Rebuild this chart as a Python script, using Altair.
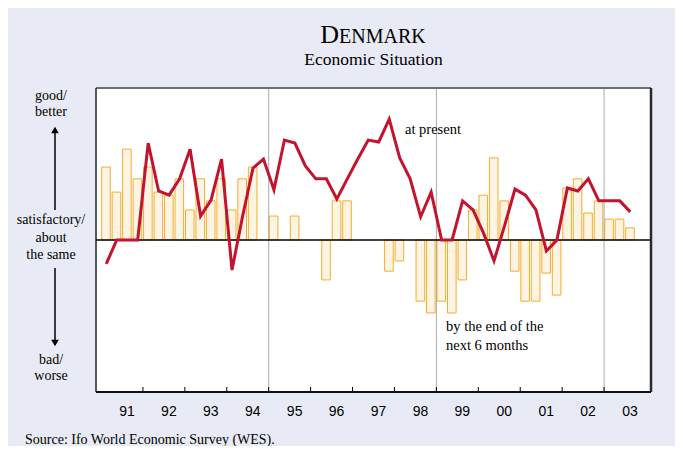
import altair as alt
import pandas as pd

# ---------------- data (WES scale 1..9, 5 = satisfactory) ----------------
years = list(range(1991, 2004))
year_labels = ["91", "92", "93", "94", "95", "96", "97", "98", "99", "00", "01", "02", "03"]

# "at present" (line), quarterly 1991Q1 .. 2003Q3
present = [
    4.37, 5.00, 5.00, 5.00,
    7.55, 6.29, 6.18, 6.61,
    7.39, 5.63, 6.05, 7.13,
    4.21, 5.61, 6.89, 7.13,
    6.32, 7.63, 7.55, 6.95,
    6.61, 6.61, 6.08, 6.61,
    7.13, 7.63, 7.58, 8.18,
    7.16, 6.61, 5.61, 6.26,
    5.00, 5.00, 6.03, 5.79,
    5.18, 4.45, 5.37, 6.34,
    6.18, 5.79, 4.71, 5.00,
    6.37, 6.29, 6.61, 6.03,
    6.03, 6.03, 5.74,
]

# "by the end of the next 6 months" (bars), quarterly 1991Q1 .. 2003Q3
expect = [
    6.92, 6.26, 7.39, 6.61,
    6.92, 6.26, 6.18, 6.61,
    5.79, 6.61, 6.03, 6.61,
    5.79, 6.61, 6.92, 5.00,
    5.63, 5.00, 5.63, 5.00,
    5.00, 3.95, 6.03, 6.03,
    5.00, 5.00, 5.00, 4.18,
    4.45, 5.00, 3.39, 3.08,
    3.39, 3.08, 3.95, 5.79,
    6.18, 7.16, 6.03, 4.18,
    3.39, 3.39, 4.13, 3.55,
    6.37, 6.61, 5.71, 6.03,
    5.55, 5.55, 5.32,
]

separator_years = [1995, 1999, 2003]
first_year = 1991

# ---------------- styling ----------------
W, H = 555, 304
BG = "#e8ebf5"
SERIF = "Liberation Serif"
SANS = "Liberation Sans"
LINE_COLOR = "#c4132f"
BAR_FILL = "#fdf4e3"
BAR_STROKE = "#f2ae2e"

df = pd.DataFrame({"qi": list(range(len(present))), "present": present, "expect": expect})
years_df = pd.DataFrame({"year": years, "label": year_labels})
sep_df = pd.DataFrame({"year": separator_years})
dummy = pd.DataFrame({"a": [0]})

xscale = alt.Scale(domain=[0, 4 * len(years)], nice=False, zero=False)
yscale = alt.Scale(domain=[1, 9], nice=False, zero=False)

base = alt.Chart(df).transform_calculate(xc="datum.qi + 0.5")

bars = base.transform_filter("datum.expect != 5").mark_bar(
    width=8.6, xOffset=-0.3, fill=BAR_FILL, stroke=BAR_STROKE, strokeWidth=1
).encode(
    x=alt.X("xc:Q", scale=xscale, axis=None),
    y=alt.Y("expect:Q", scale=yscale, axis=None),
    y2=alt.datum(5),
)

zero = alt.Chart(pd.DataFrame({"y": [5]})).mark_rule(color="black", strokeWidth=1.5).encode(
    y=alt.Y("y:Q", scale=yscale, axis=None)
)

seps = alt.Chart(sep_df).transform_calculate(
    xq=f"(datum.year - {first_year}) * 4"
).mark_rule(color="#ababab", strokeWidth=1).encode(
    x=alt.X("xq:Q", scale=xscale, axis=None)
)

ticks = alt.Chart(years_df).transform_filter(f"datum.year > {first_year}").transform_calculate(
    xq=f"(datum.year - {first_year}) * 4"
).mark_rule(color="black", strokeWidth=1).encode(
    x=alt.X("xq:Q", scale=xscale, axis=None),
    y=alt.value(H - 5),
    y2=alt.value(H),
)

line = base.mark_line(color=LINE_COLOR, strokeWidth=3, strokeJoin="miter").encode(
    x=alt.X("xc:Q", scale=xscale, axis=None),
    y=alt.Y("present:Q", scale=yscale, axis=None),
)

year_text = alt.Chart(years_df).transform_calculate(
    xq=f"(datum.year - {first_year}) * 4 + 2"
).mark_text(font=SANS, fontSize=14, dx=5, baseline="middle", align="center", color="black").encode(
    x=alt.X("xq:Q", scale=xscale, axis=None),
    y=alt.value(H + 20),
    text="label:N",
)


def label(text, x, y, size=14, align="center", baseline="middle", font=SERIF):
    return alt.Chart(dummy).mark_text(
        text=text, font=font, fontSize=size, align=align, baseline=baseline, color="black"
    ).encode(x=alt.value(x), y=alt.value(y))


def vrule(x, y1, y2, color="black", width=1.0):
    return alt.Chart(dummy).mark_rule(color=color, strokeWidth=width).encode(
        x=alt.value(x), y=alt.value(y1), y2=alt.value(y2)
    )


def hrule(y, x1, x2, color="black", width=1.0):
    return alt.Chart(dummy).mark_rule(color=color, strokeWidth=width).encode(
        y=alt.value(y), x=alt.value(x1), x2=alt.value(x2)
    )


def tri(shape, x, y):
    return alt.Chart(dummy).mark_point(shape=shape, filled=True, color="black", size=60, opacity=1).encode(
        x=alt.value(x), y=alt.value(y)
    )


LX = -45
AX = -41
annotations = [
    label("good/", LX, 8),
    label("better", LX, 24),
    label("satisfactory/", LX, 132),
    label("about", LX, 150),
    label("the same", LX, 167),
    label("bad/", LX, 272),
    label("worse", LX, 288),
    vrule(AX, 44, 122, width=1.5),
    tri("triangle-up", AX, 42),
    vrule(AX, 180, 252, width=1.5),
    tri("triangle-down", AX, 255),
    label("at present", 309, 42, size=14.5, align="left"),
    label("by the end of the", 350, 239, size=14.5, align="left"),
    label("next 6 months", 350, 258, size=14.5, align="left"),
    label("D", 243, -45, size=26, align="right", baseline="alphabetic"),
    label("ENMARK", 243, -45, size=20, align="left", baseline="alphabetic"),
    label("Economic Situation", W / 2, -23, size=17.5, baseline="alphabetic"),
    label("Source: Ifo World Economic Survey (WES).", -71, 352, size=14, align="left"),
]

borders = [
    hrule(0, 0, W, color="#6e6e6e", width=2),
    vrule(W, 0, H, color="#2a2a2a", width=2.5),
    vrule(0, 0, H, color="#222222", width=1.5),
    hrule(H, 0, W, color="#111111", width=2),
]

chart = alt.layer(
    bars, seps, zero, ticks, line, year_text, *annotations, *borders
).properties(
    width=W,
    height=H,
    background=BG,
    padding={"left": 88, "top": 80, "right": 24, "bottom": 54},
    autosize=alt.AutoSizeParams(type="none"),
).configure_view(
    stroke=None, fill="white"
)

chart.save("out.html", embed_options={"renderer": "svg", "actions": False})
